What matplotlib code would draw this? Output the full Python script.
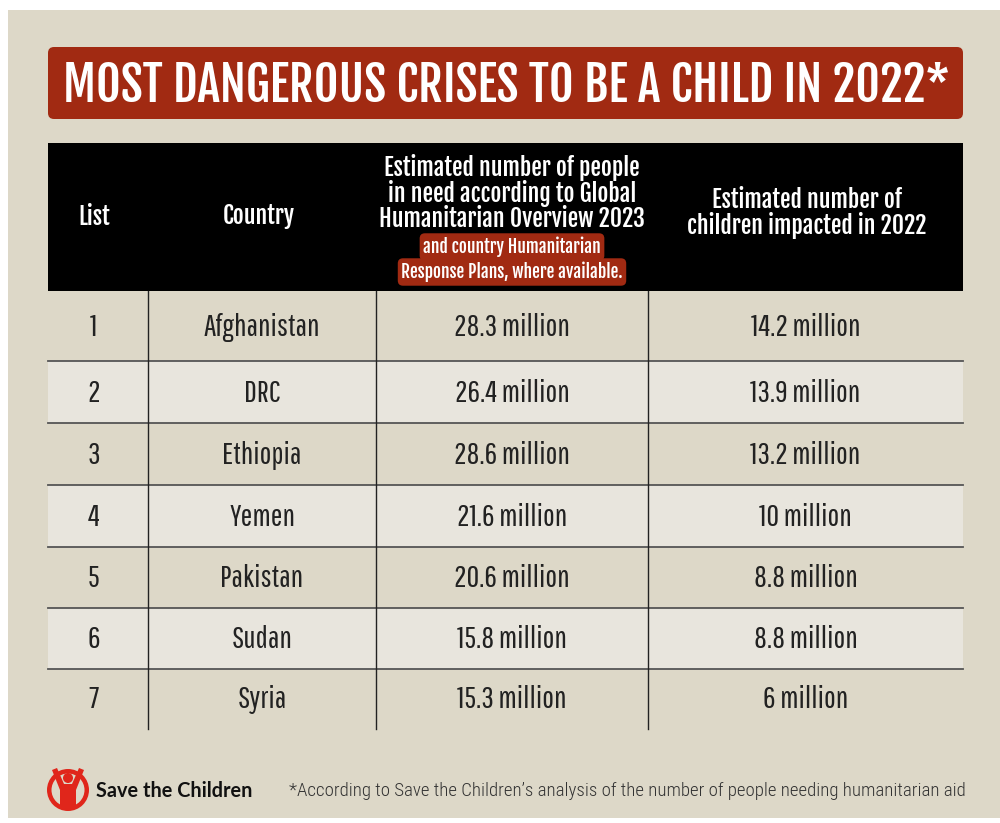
import matplotlib
matplotlib.use("Agg")
import matplotlib.pyplot as plt
from matplotlib.patches import Rectangle, FancyBboxPatch, Circle, Polygon

title = "MOST DANGEROUS CRISES TO BE A CHILD IN 2022*"
col_headers = ["List", "Country",
               "Estimated number of people\nin need according to Global\nHumanitarian Overview 2023",
               "Estimated number of\nchildren impacted in 2022"]
header_note = ["and country Humanitarian", "Response Plans, where available."]
ranks = ["1", "2", "3", "4", "5", "6", "7"]
countries = ["Afghanistan", "DRC", "Ethiopia", "Yemen", "Pakistan", "Sudan", "Syria"]
people_in_need = ["28.3 million", "26.4 million", "28.6 million", "21.6 million",
                  "20.6 million", "15.8 million", "15.3 million"]
children_impacted = ["14.2 million", "13.9 million", "13.2 million", "10 million",
                     "8.8 million", "8.8 million", "6 million"]
brand = "Save the Children"
footnote = "*According to Save the Children\u2019s analysis of the number of people needing humanitarian aid"

HEAD = ["Fjalla One", "DejaVu Sans"]
BODY = ["Pathway Gothic One", "DejaVu Sans"]
FOOT = ["Roboto Condensed", "DejaVu Sans"]
BG = "#ddd8c8"
ALT = "#e8e5dd"
RED = "#a12a12"

fig = plt.figure(figsize=(10, 8.23), dpi=100)
fig.patch.set_facecolor("white")
ax = fig.add_axes([0, 0, 1, 1])
ax.set_xlim(0, 1000)
ax.set_ylim(823, 0)
ax.axis("off")

ax.add_patch(Rectangle((8, 10), 992, 808, facecolor=BG, edgecolor="none"))

# title
ax.add_patch(FancyBboxPatch((48, 47), 915, 72, boxstyle="round,pad=0,rounding_size=6",
                            facecolor=RED, edgecolor="none"))
ax.text(506, 86, title, ha="center", va="center", color="white", fontsize=34.5,
        family=HEAD)

# header
left, right = 48, 963
col_x = [48, 148, 376, 648, 963]
ax.add_patch(Rectangle((left, 143), right - left, 148, facecolor="black", edgecolor="none"))
centers = [(col_x[i] + col_x[i + 1]) / 2 for i in range(4)]
hs = 17
ax.text(94, 217, col_headers[0], ha="center", va="center", color="white",
        fontsize=hs, family=HEAD)
ax.text(259, 216, col_headers[1], ha="center", va="center", color="white",
        fontsize=hs, family=HEAD)
ax.text(centers[2], 193, col_headers[2], ha="center", va="center", color="white",
        fontsize=hs, family=HEAD, linespacing=0.95)
ax.text(centers[3] + 1, 213, col_headers[3], ha="center", va="center", color="white",
        fontsize=hs, family=HEAD, linespacing=0.95)
for yy, note in zip([247, 272], header_note):
    ax.text(centers[2], yy, note, ha="center", va="center", color="white", fontsize=12.5,
            family=HEAD,
            bbox=dict(boxstyle="round,pad=0.2,rounding_size=0.3", facecolor=RED, edgecolor="none"))

# rows
row_edges = [291, 361, 423, 485, 547, 608, 669, 729]
for i in range(len(ranks)):
    y0, y1 = row_edges[i], row_edges[i + 1]
    if i % 2 == 1:
        ax.add_patch(Rectangle((left, y0), right - left, y1 - y0, facecolor=ALT, edgecolor="none"))
    yc = (y0 + y1) / 2 + 1
    for c, val in enumerate([ranks[i], countries[i], people_in_need[i], children_impacted[i]]):
        ax.text(centers[c] - (4 if c == 0 else 0), yc, val, ha="center", va="center",
                color="#222222", fontsize=22.5, family=BODY)
for y in row_edges[1:-1]:
    ax.plot([left, right], [y, y], color="#555555", lw=1.3)
for x in col_x[1:4]:
    ax.plot([x, x], [291, 729], color="#222222", lw=1.0)

# footer logo
ax.add_patch(Circle((68, 790), 21, facecolor="#e0261b", edgecolor="none"))
ax.add_patch(Circle((68, 790), 16.5, facecolor=BG, edgecolor="none"))
ax.add_patch(Circle((68, 778), 5, facecolor="#e0261b", edgecolor="none"))
ax.add_patch(Polygon([(52, 770), (57, 768), (64, 784), (72, 784), (79, 768), (84, 770),
                      (76, 790), (76, 807), (60, 807), (60, 790)],
                     closed=True, facecolor="#e0261b", edgecolor="none"))
ax.text(96, 791, brand, ha="left", va="center", color="#111111", fontsize=14.3,
        fontweight="bold", family=["Lato", "DejaVu Sans"])
ax.text(966, 791, footnote, ha="right", va="center", color="#333333", fontsize=13.6,
        fontweight=300, family=FOOT)

fig.savefig("out.png", dpi=100, facecolor=fig.get_facecolor())
